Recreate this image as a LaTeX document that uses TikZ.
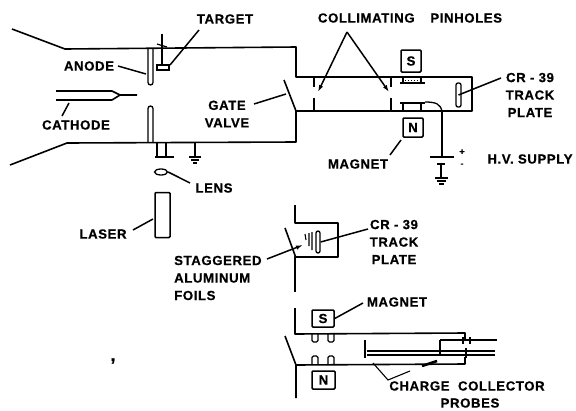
\documentclass[tikz,border=0pt]{standalone}
\usepackage{fontspec}
\setmainfont{Liberation Sans}[LetterSpace=4.5,FakeBold=0.6]
\usetikzlibrary{arrows.meta,shapes.geometric}
\tikzset{
 lab/.style={font=\bfseries\fontsize{13.2}{17.5}\selectfont,inner sep=0pt,align=center},
 labl/.style={lab,anchor=west,align=left},
 sign/.style={font=\bfseries\fontsize{9}{9}\selectfont,inner sep=0pt},
 wall/.style={line width=1.6pt,line join=round},
 lead/.style={line width=1.5pt},
 thin wall/.style={line width=1.1pt},
 polebox/.style={draw,line width=1.5pt,rounded corners=1pt,inner sep=0pt,font=\bfseries\fontsize{13.2}{17}\selectfont},
 tip/.style={-{Latex[length=7pt,width=4.5pt]}},
 heavy/.style={line width=2.6pt}
}
\begin{document}
\begin{tikzpicture}[x=1pt,y=-1pt]
\useasboundingbox (0,0) rectangle (576,410);
% main vessel
\draw[wall] (12,29) -- (65,49) -- (296,47) -- (296,77) -- (472,77) -- (472,111) -- (296,111) -- (296,142) -- (67,143) -- (10,165);
% anode
\draw[line width=1.3pt,rounded corners=2.5pt] (148,48) -- (148,85) -- (153,85) -- (153,48);
\draw[line width=1.3pt,rounded corners=2.5pt] (148,142) -- (148,106) -- (153,106) -- (153,142);
% target
\draw[line width=2.2pt] (162,34) -- (162,65);
\draw[line width=1.2pt] (157,44) -- (167,47);
\draw[line width=1.3pt,fill=white] (157,65) rectangle (169,70);
\node[lab] (target) at (225,19) {TARGET};
\coordinate (targetp) at (170,65);
\draw[lead] (199,30) -- (targetp);
\node[lab] (anode) at (89,66) {ANODE};
\coordinate (anodep) at (146,74);
\draw[lead] (118,66) -- (anodep);
% cathode
\draw[wall] (56,91) -- (112,91) -- (120,95) -- (137,95);
\draw[wall] (56,100) -- (112,100) -- (120,95);
\node[lab] (cathode) at (76,125) {CATHODE};
\coordinate (cathp) at (69,103);
\draw[lead] (cathp) -- (62,116);
% gate valve
\coordinate (gatetop) at (284,80);
\coordinate (gatebot) at (296,111);
\draw[wall] (gatetop) -- (gatebot);
\node[lab] (gate) at (227,114) {GATE\\VALVE};
\draw[lead] (254,104) -- (286,94);
% lens tube and ground
\draw[wall] (157,143) -- (157,157);
\draw[wall] (166,143) -- (166,157);
\draw[wall] (155,157) -- (174,157);
\coordinate (g1) at (195,143);
\draw[lead] (g1) -- ++(0,14);
\draw[lead] (189,157) -- (201,157) (191,160) -- (199,160) (193,163) -- (197,163);
\node[draw,line width=1.3pt,ellipse,minimum width=13pt,minimum height=6pt,inner sep=0pt] (lensel) at (161,172) {};
\node[lab] (lens) at (214,188) {LENS};
\draw[lead] (lensel.east) -- (190,183);
% laser
\node[draw,line width=1.5pt,rounded corners=1pt,minimum width=15pt,minimum height=45pt,inner sep=0pt] (laser) at (162.5,215) {};
\node[lab] (laserl) at (103,234) {LASER};
\draw[lead] (133,230) -- (153,219);
% collimating
\node[lab] (coll) at (410,18) {COLLIMATING\hspace{1.2em}PINHOLES};
\coordinate (apex) at (347,32);
\draw[lead,tip] (apex) -- (318,92);
\draw[lead,tip] (apex) -- (389,92);
\draw[thin wall] (314,77) -- (314,87) (314,98) -- (314,111);
\draw[thin wall] (391,77) -- (391,87) (391,98) -- (391,111);
% magnet upper
\node[polebox,minimum width=20pt,minimum height=22pt] (s1) at (411,61) {S};
\node[polebox,minimum width=20pt,minimum height=19pt] (n1) at (413,127.5) {N};
\draw[line width=1.1pt] (403,77) -- (403,83) (421,77) -- (421,83);
\draw[line width=1.5pt] (400,83) -- (425,83);
\draw[line width=1pt,dotted] (405,80) -- (420,80);
\draw[heavy] (400,103) -- (425,103);
\draw[line width=1.1pt] (403,103) -- (403,110) (421,103) -- (421,110);
\draw[line width=1.3pt] (425,102) .. controls (436,102) and (441,104) .. (442,112);
% supply
\draw[lead] (442,112) -- (442,157);
\draw[lead] (430,157) -- (454,157);
\draw[line width=2pt] (437,164) -- (445,164);
\draw[lead] (441,164) -- (441,178);
\draw[lead] (435,178) -- (448,178) (437,181) -- (446,181) (439,184) -- (444,184);
\node[sign] (plus) at (462,152) {+};
\node[sign] (minus) at (462,165) {-};
\node[lab] (hv) at (530,159) {H.V. SUPPLY};
\node[lab] (mag1) at (358,164) {MAGNET};
\draw[lead] (401,140) -- (390,155);
% plate
\node[draw,line width=1.3pt,rounded corners=2pt,minimum width=5pt,minimum height=24pt,inner sep=0pt] (plate1) at (458.5,95) {};
\node[lab] (cr1) at (530,95) {CR - 39\\TRACK\\PLATE};
\draw[lead] (plate1.center) -- (501,78);
% middle panel
\draw[wall] (295,205) -- (295,223) -- (338,223) -- (338,257) -- (295,257) -- (295,292);
\draw[wall] (285,228) -- (296,258);
\draw[line width=1.1pt] (305,234) -- (306,240) (309,233) -- (309,246) (312,232) -- (312,250);
\node[draw,line width=1.3pt,rounded corners=2pt,minimum width=4pt,minimum height=22pt,inner sep=0pt] (plate2) at (318,242) {};
\node[lab] (cr2) at (394,242) {CR - 39\\TRACK\\PLATE};
\draw[lead] (plate2.east) -- (368,229);
\node[labl] (stag) at (174,278) {STAGGERED\\ALUMINUM\\FOILS};
\draw[lead,tip] (267,259) -- (303,245);
% lower panel
\draw[wall] (295,308) -- (295,334) -- (465,333) -- (465,340);
\draw[wall] (285,336) -- (296,365) -- (296,398);
\draw[wall] (296,365) -- (465,364) -- (465,357);
\node[polebox,minimum width=22pt,minimum height=17pt] (s2) at (323,318.5) {S};
\node[polebox,minimum width=23pt,minimum height=18pt] (n2) at (323.5,380) {N};
\foreach \x in {315,331}{
 \draw[line width=1.3pt,rounded corners=1.5pt] (\x-3,334) -- (\x-3,342) -- (\x+3,342) -- (\x+3,334);
 \draw[line width=1.3pt,rounded corners=1.5pt] (\x-3,365) -- (\x-3,356) -- (\x+3,356) -- (\x+3,365);
}
\node[lab] (mag2) at (397,302) {MAGNET};
\draw[lead] (s2.east) -- (363,303);
% probes
\draw[line width=1.1pt] (365,340) -- (365,358);
\draw[line width=1.1pt] (367,351) -- (495,351);
\draw[line width=1.8pt] (367,355) -- (495,355);
\draw[line width=1.1pt] (440,353) -- (440,340);
\draw[heavy] (440,340) -- (497,340);
\draw[line width=1.1pt] (463,337) -- (463,344) (470,337) -- (470,344) (440,350) -- (440,356) (466,348) -- (466,358);
\draw[heavy] (422,366) -- (437,361);
\node[lab] (charge) at (467,386) {CHARGE\ \ COLLECTOR};
\node[lab] (probes) at (470,403) {PROBES};
\draw[line width=1.1pt] (373,363) -- (388,380) -- (410,371);
% stray mark
\node[font=\bfseries\fontsize{18}{18}\selectfont,inner sep=0pt] (comma) at (113,361) {,};
\end{tikzpicture}
\end{document}
